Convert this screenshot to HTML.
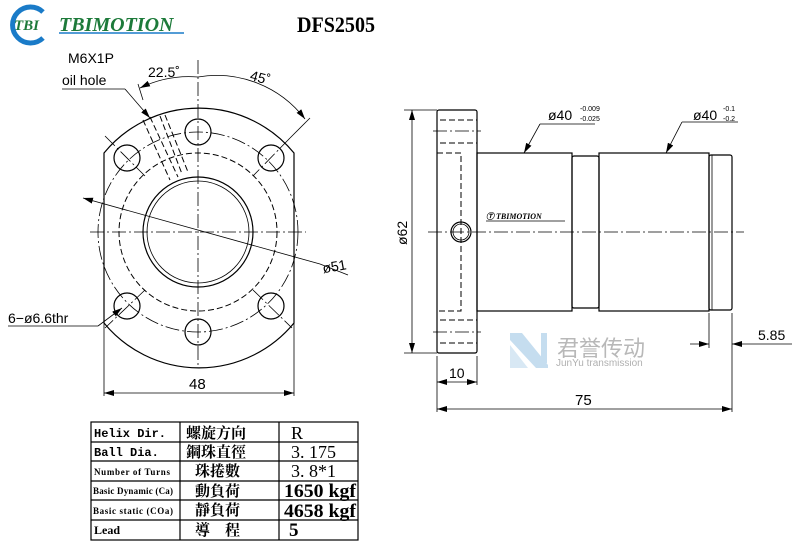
<!DOCTYPE html>
<html><head><meta charset="utf-8"><style>
body{margin:0;background:#fff;width:800px;height:558px;overflow:hidden}
svg{display:block}
.s{fill:none;stroke:#000;stroke-width:1.2}
.t{fill:none;stroke:#000;stroke-width:0.8}
.c{fill:none;stroke:#000;stroke-width:0.8;stroke-dasharray:14 3 2 3}
.d{fill:none;stroke:#000;stroke-width:1;stroke-dasharray:6 3}
.sa{font-family:"Liberation Sans",sans-serif}
.se{font-family:"Liberation Serif",serif}
.sb{font-family:"Liberation Serif",serif;font-weight:bold}
.sbi{font-family:"Liberation Serif",serif;font-weight:bold;font-style:italic}
.mo{font-family:"Liberation Mono",monospace;font-weight:bold}
.cj{font-family:"Liberation Serif","Noto Serif CJK SC",serif;font-weight:bold}
.wm{font-family:"Liberation Sans","Noto Sans CJK SC",sans-serif}
</style></head><body>
<svg width="800" height="558" viewBox="0 0 800 558" xmlns="http://www.w3.org/2000/svg">
<defs><marker id="a" viewBox="0 0 10 6" refX="10" refY="3" markerWidth="10" markerHeight="6" orient="auto-start-reverse" markerUnits="userSpaceOnUse"><path d="M0,0L10,3L0,6z" fill="#000"/></marker></defs>
<!-- logo -->
<path d="M43,12 A18,18 0 1 0 43,38" fill="none" stroke="#1a7bc8" stroke-width="5"/>
<text x="14" y="30" class="sbi" font-size="15" fill="#1d7a3a">TBI</text>
<text x="59" y="31" class="sbi" font-size="20" fill="#1d7a3a">TBIMOTION</text>
<line x1="59" y1="33" x2="184" y2="33" stroke="#1a7bc8" stroke-width="1.5"/>
<text x="297" y="32" class="sb" font-size="22" textLength="78" lengthAdjust="spacingAndGlyphs">DFS2505</text>
<!-- left view -->
<g class="sa">
<text x="68" y="63" font-size="14">M6X1P</text>
<text x="62" y="85" font-size="14">oil hole</text>
<text x="148" y="77" font-size="14">22.5˚</text>
<text x="250" y="82" font-size="14" transform="rotate(15 258 78)">45˚</text>
<text x="322" y="272" font-size="14" transform="rotate(-10 330 265)">ø51</text>
<text x="8" y="323" font-size="14">6−ø6.6thr</text>
<text x="189" y="389" font-size="15">48</text>
</g>
<line class="t" x1="62" y1="89" x2="125" y2="89"/>
<line class="t" x1="125" y1="89" x2="150" y2="118" marker-end="url(#a)"/>
<path class="t" d="M140,88 A111,111 0 0 1 198,77" marker-start="url(#a)"/>
<path class="t" d="M198,77 A111,111 0 0 1 305,119" marker-end="url(#a)"/>
<line class="t" x1="138" y1="84" x2="143" y2="100"/>
<line class="t" x1="310" y1="118" x2="290" y2="138"/>
<path class="s" d="M104,153 A123,123 0 0 1 294,153 L294,323 A123,123 0 0 1 104,323 Z"/>
<circle class="c" cx="198" cy="232" r="100"/>
<circle class="d" cx="198" cy="232" r="79"/>
<circle class="s" cx="198" cy="232" r="55"/>
<circle class="t" cx="198" cy="232" r="51"/>
<g class="s">
<circle cx="198" cy="132" r="13"/><circle cx="198" cy="332" r="13"/>
<circle cx="127" cy="158" r="13"/><circle cx="271" cy="158" r="13"/>
<circle cx="127" cy="306" r="13"/><circle cx="271" cy="306" r="13"/>
</g>
<g class="c">
<line x1="90" y1="232" x2="306" y2="232"/>
<line x1="198" y1="60" x2="198" y2="365"/>
<line x1="105" y1="136" x2="145" y2="176"/><line x1="290" y1="138" x2="253" y2="176"/>
<line x1="145" y1="290" x2="105" y2="328"/><line x1="253" y1="290" x2="292" y2="328"/>
</g>
<g class="d"><line x1="143" y1="120" x2="170" y2="180"/><line x1="150" y1="117" x2="178" y2="177"/><line x1="160" y1="116" x2="182" y2="174"/><line x1="165" y1="115" x2="188" y2="172"/></g>
<line class="t" x1="83" y1="198" x2="320" y2="264" marker-start="url(#a)"/>
<line class="t" x1="320" y1="264" x2="348" y2="275"/>
<line class="t" x1="8" y1="326" x2="98" y2="326"/>
<line class="t" x1="98" y1="326" x2="122" y2="308" marker-end="url(#a)"/>
<line class="t" x1="104" y1="320" x2="104" y2="396"/><line class="t" x1="294" y1="320" x2="294" y2="396"/>
<line class="t" x1="104" y1="393" x2="294" y2="393" marker-start="url(#a)" marker-end="url(#a)"/>
<!-- right view -->
<rect class="s" x="437" y="110" width="40" height="243" rx="2"/>
<rect class="s" x="477" y="153" width="95" height="158"/>
<rect class="s" x="572" y="156" width="27" height="152" rx="2"/>
<rect class="s" x="599" y="153" width="110" height="158"/>
<rect class="s" x="709" y="155" width="23" height="155" rx="2"/>
<line class="t" x1="712" y1="155" x2="712" y2="310"/>
<g class="d"><line x1="440" y1="120" x2="477" y2="120"/><line x1="440" y1="143" x2="477" y2="143"/><line x1="440" y1="320" x2="477" y2="320"/><line x1="440" y1="343" x2="477" y2="343"/>
<path d="M437,153 H461 V311 H437"/></g>
<g class="c"><line x1="433" y1="131" x2="481" y2="131"/><line x1="433" y1="332" x2="481" y2="332"/></g>
<line class="c" x1="428" y1="232" x2="744" y2="232"/>
<circle class="s" cx="461" cy="232" r="10"/><circle class="t" cx="461" cy="232" r="8"/>
<text x="486" y="219" class="sbi" font-size="8">Ⓣ TBIMOTION</text>
<line class="t" x1="486" y1="221" x2="565" y2="221"/>
<line class="t" x1="412" y1="110" x2="412" y2="353" marker-start="url(#a)" marker-end="url(#a)"/>
<line class="t" x1="404" y1="110" x2="437" y2="110"/><line class="t" x1="404" y1="353" x2="437" y2="353"/>
<g class="sa">
<text font-size="14" transform="translate(407,245) rotate(-90)">ø62</text>
<text x="548" y="120" font-size="14">ø40</text><text x="580" y="111" font-size="7">-0.009</text><text x="580" y="121" font-size="7">-0.025</text>
<text x="693" y="120" font-size="14">ø40</text><text x="723" y="111" font-size="7">-0.1</text><text x="723" y="121" font-size="7">-0.2</text>
<text x="758" y="340" font-size="14">5.85</text>
<text x="449" y="378" font-size="14">10</text>
<text x="575" y="405" font-size="15">75</text>
</g>
<line class="t" x1="540" y1="124" x2="595" y2="124"/>
<line class="t" x1="540" y1="124" x2="524" y2="153" marker-end="url(#a)"/>
<line class="t" x1="682" y1="122" x2="738" y2="122"/>
<line class="t" x1="682" y1="122" x2="666" y2="153" marker-end="url(#a)"/>
<line class="t" x1="709" y1="313" x2="709" y2="348"/><line class="t" x1="732" y1="313" x2="732" y2="412"/>
<line class="t" x1="690" y1="344" x2="709" y2="344" marker-end="url(#a)"/>
<line class="t" x1="732" y1="344" x2="792" y2="344" marker-start="url(#a)"/>
<line class="t" x1="437" y1="356" x2="437" y2="412"/><line class="t" x1="477" y1="356" x2="477" y2="385"/>
<line class="t" x1="437" y1="382" x2="477" y2="382" marker-start="url(#a)" marker-end="url(#a)"/>
<line class="t" x1="437" y1="409" x2="732" y2="409" marker-start="url(#a)" marker-end="url(#a)"/>
<!-- watermark -->
<g opacity="0.45"><path d="M510,333 L522,333 L548,365 L548,368 L536,368 L510,340Z" fill="#7fb4dc"/><path d="M510,345 L528,368 L510,368Z" fill="#a9cde8"/><rect x="541" y="333" width="6" height="30" fill="#7fb4dc"/></g>
<text x="557" y="356" class="wm" font-size="22" fill="#b8b8b8">君誉传动</text>
<text x="556" y="366" class="sa" font-size="10" fill="#b0b0b0">JunYu transmission</text>
<!-- table -->
<g class="s"><rect x="91" y="422" width="267" height="118"/>
<line x1="180" y1="422" x2="180" y2="540"/><line x1="279" y1="422" x2="279" y2="540"/>
<line x1="91" y1="442" x2="358" y2="442"/><line x1="91" y1="461" x2="358" y2="461"/><line x1="91" y1="481" x2="358" y2="481"/><line x1="91" y1="500" x2="358" y2="500"/><line x1="91" y1="520" x2="358" y2="520"/></g>
<g class="mo" font-size="12">
<text x="94" y="437">Helix  Dir.</text><text x="94" y="456">Ball Dia.</text></g>
<g class="sb" font-size="9">
<text x="94" y="475" textLength="76">Number of Turns</text><text x="93" y="494" textLength="80">Basic Dynamic (Ca)</text><text x="93" y="514" textLength="80">Basic static (COa)</text></g>
<text x="94" y="534" class="sb" font-size="12">Lead</text>
<g class="cj" font-size="15">
<text x="186" y="438">螺旋方向</text><text x="186" y="457">鋼珠直徑</text><text x="195" y="476">珠捲數</text><text x="195" y="496">動負荷</text><text x="195" y="515">靜負荷</text><text x="195" y="535">導　程</text></g>
<g class="se" font-size="18">
<text x="291" y="439">R</text><text x="291" y="458" textLength="45" lengthAdjust="spacingAndGlyphs">3. 175</text><text x="291" y="477" textLength="45" lengthAdjust="spacingAndGlyphs">3. 8*1</text></g>
<g class="sb" font-size="19">
<text x="284" y="497" textLength="72" lengthAdjust="spacingAndGlyphs">1650 kgf</text><text x="284" y="517" textLength="72" lengthAdjust="spacingAndGlyphs">4658 kgf</text><text x="289" y="536">5</text></g>
</svg>
</body></html>
